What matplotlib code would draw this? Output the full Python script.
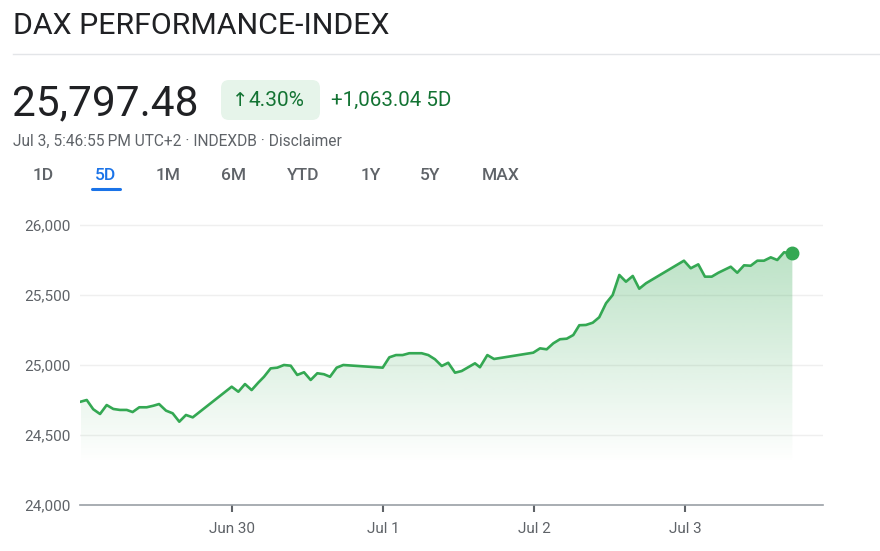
import numpy as np
import matplotlib
matplotlib.use("Agg")
import matplotlib.pyplot as plt
from matplotlib.patches import FancyBboxPatch

plt.rcParams['font.family'] = ['Roboto', 'DejaVu Sans']

# ---------------- donnees (jours depuis le 30 juin, valeur de l'indice) ----------------
days = [-1.002, -0.962, -0.919, -0.874, -0.830, -0.786, -0.742, -0.697, -0.658, -0.614,
        -0.565, -0.521, -0.483, -0.437, -0.393, -0.349, -0.305, -0.260,
        -0.002, 0.042, 0.086, 0.130, 0.174, 0.212, 0.256, 0.300, 0.344, 0.389,
        0.432, 0.477, 0.521, 0.565, 0.609, 0.649, 0.693, 0.737,
        0.998, 1.042, 1.086, 1.130, 1.174, 1.256, 1.300, 1.344, 1.389, 1.432,
        1.477, 1.521, 1.609, 1.642, 1.691, 1.735,
        1.995, 2.040, 2.084, 2.128, 2.172, 2.217, 2.260, 2.300, 2.344, 2.389,
        2.432, 2.477, 2.521, 2.565, 2.609, 2.654, 2.697, 2.742,
        2.993, 3.038, 3.088, 3.132, 3.177, 3.221, 3.303, 3.346, 3.391, 3.435,
        3.479, 3.523, 3.568, 3.611, 3.656, 3.711]
values = [24738, 24750, 24684, 24650, 24714, 24686, 24679, 24679, 24664, 24698,
          24698, 24709, 24721, 24674, 24655, 24595, 24643, 24626,
          24845, 24809, 24864, 24821, 24874, 24916, 24976, 24981, 25000, 24995,
          24929, 24948, 24893, 24941, 24934, 24916, 24981, 25000,
          24981, 25055, 25071, 25071, 25084, 25084, 25071, 25041, 24993, 25016,
          24945, 24957, 25012, 24984, 25071, 25043,
          25088, 25119, 25112, 25155, 25184, 25188, 25214, 25284, 25286, 25302,
          25341, 25441, 25500, 25643, 25595, 25636, 25545, 25584,
          25745, 25691, 25719, 25631, 25631, 25659, 25702, 25659, 25712, 25709,
          25745, 25745, 25769, 25750, 25805, 25797.48]

tick_pos = [0, 1, 2, 3]
tick_labels = ["Jun 30", "Jul 1", "Jul 2", "Jul 3"]
y_ticks = [24000, 24500, 25000, 25500, 26000]
tabs = ["1D", "5D", "1M", "6M", "YTD", "1Y", "5Y", "MAX"]
tab_x = [43, 105.5, 168, 233.5, 303.5, 370.5, 430.5, 501]

GREEN = '#34a853'
DARK_GREEN = '#137333'
GRAY = '#5f6368'

W, H = 880, 551
fig = plt.figure(figsize=(W / 100, H / 100), dpi=100)
fig.patch.set_facecolor('white')

# ---------------- en-tete (axes en pixels) ----------------
top = fig.add_axes([0, 0, 1, 1])
top.set_xlim(0, W)
top.set_ylim(H, 0)
top.axis('off')

top.text(13, 34, "DAX PERFORMANCE-INDEX", fontsize=21.8, color='#202124', va='baseline')
top.plot([13, 880], [53.5, 53.5], color='#e3e5e8', lw=1)
top.text(12, 115, "25,797.48", fontsize=30.5, color='#202124', va='baseline')
top.add_patch(FancyBboxPatch((221, 80), 99, 40, boxstyle="round,pad=0,rounding_size=8",
                             facecolor='#e6f4ea', edgecolor='none'))
top.text(232, 106.5, "\u2191", fontsize=14, color=DARK_GREEN, va='baseline')
top.text(248.5, 106, "4.30%", fontsize=15, color=DARK_GREEN, va='baseline')
top.text(331, 106, "+1,063.04 5D", fontsize=14.8, color=DARK_GREEN, va='baseline')
top.text(13, 145.5, "Jul 3, 5:46:55\u2009PM UTC+2 \u00b7 INDEXDB \u00b7 Disclaimer",
         fontsize=11.2, color=GRAY, va='baseline')
for lab, xc in zip(tabs, tab_x):
    col = '#1a73e8' if lab == "5D" else GRAY
    top.text(xc, 180.5, lab, fontsize=12.5, color=col, ha='center', va='baseline', weight='medium')
top.plot([92, 120], [189, 189], color='#1a73e8', lw=2.2, solid_capstyle='round')

# ---------------- graphique ----------------
ax_left, ax_right, ax_top, ax_bot = 80, 823, 215, 505
ax = fig.add_axes([ax_left / W, 1 - ax_bot / H, (ax_right - ax_left) / W, (ax_bot - ax_top) / H])
ax.set_facecolor('none')
px_per_day = 151.0
ax.set_xlim((ax_left - 232) / px_per_day, (ax_right - 232) / px_per_day)
ax.set_ylim(24000, 26000 + 10 / 0.14)

for v in y_ticks[1:]:
    ax.axhline(v, color='#efefef', lw=1, zorder=0)

x = np.array(days)
y = np.array(values)
base = 24300
poly = ax.fill_between(x, y, base, facecolor='none', edgecolor='none')
grad = np.zeros((256, 1, 4))
grad[:, 0, 0:3] = matplotlib.colors.to_rgb(GREEN)
grad[:, 0, 3] = np.linspace(0.0, 0.33, 256)
img = ax.imshow(grad, extent=[x[0], x[-1], base, y.max()], origin='lower', aspect='auto',
                zorder=1, interpolation='bilinear')
img.set_clip_path(poly.get_paths()[0], ax.transData)

ax.plot(x, y, color=GREEN, lw=1.9, zorder=3, solid_joinstyle='round')
ax.plot(x[-1], y[-1], 'o', color=GREEN, ms=9, zorder=4, clip_on=False)

for s in ['top', 'right', 'left']:
    ax.spines[s].set_visible(False)
ax.spines['bottom'].set_color('#9aa0a6')
ax.spines['bottom'].set_linewidth(1.2)

ax.set_yticks(y_ticks)
ax.set_yticklabels(['{:,}'.format(v) for v in y_ticks])
ax.tick_params(axis='y', length=0, pad=7, labelsize=11, labelcolor=GRAY)
ax.set_xticks(tick_pos)
ax.set_xticklabels(tick_labels)
ax.tick_params(axis='x', length=5, width=1.5, color=GRAY, pad=7, labelsize=11, labelcolor=GRAY)

fig.savefig('out.png', dpi=100, facecolor='white')
